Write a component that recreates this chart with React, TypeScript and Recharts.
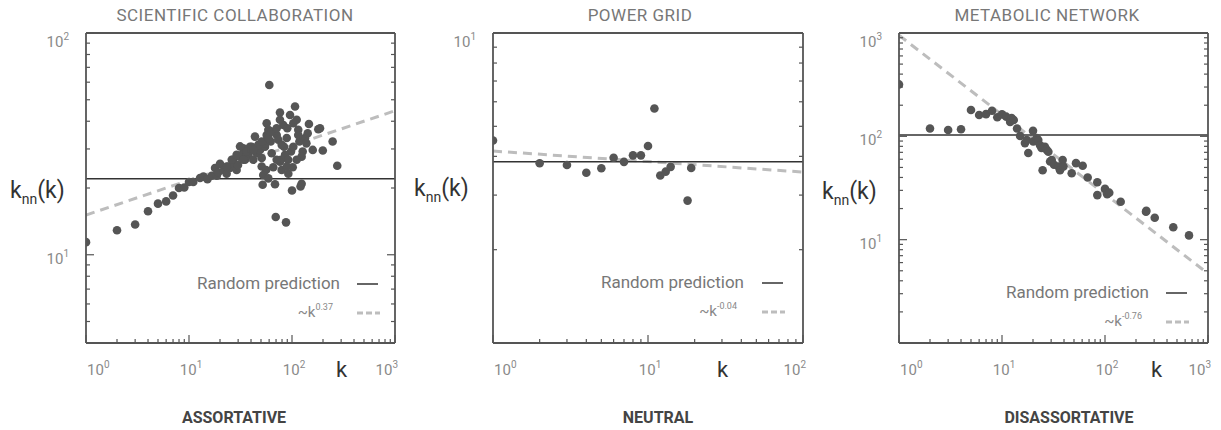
import React from 'react';
import { ScatterChart, Scatter, XAxis, YAxis, ReferenceLine } from 'recharts';

// ---------- Data ----------
const panelTitles = ['SCIENTIFIC COLLABORATION', 'POWER GRID', 'METABOLIC NETWORK'];
const panelTypes = ['ASSORTATIVE', 'NEUTRAL', 'DISASSORTATIVE'];
const fitExponents = ['0.37', '-0.04', '-0.76'];

// Scientific collaboration (k, knn)
const collabK = [1, 2, 3, 4, 5, 6, 7, 8, 9, 10, 11, 12.8, 13.8, 15.1, 16.6, 17.9, 18.6, 19.2, 20.0, 21.9, 23.2, 24.1, 25.0, 26.7, 26.9, 29.0, 29.9, 30.8, 32.5, 33.7, 35.0, 36.3, 37.7, 39.1, 40.6, 42.1, 43.7, 45.4, 47.1, 48.9, 50.8, 51.9, 52.6, 54.7, 54.7, 56.0, 56.8, 57.6, 58.9, 58.9, 60.2, 61, 62.1, 63.5, 65.8, 68.4, 69.5, 71.0, 73.6, 76.4, 76.4, 78.2, 79.4, 82.3, 83.6, 87.5, 88.9, 90.0, 92.1, 95.7, 97.8, 100, 101.6, 103, 107, 111, 115, 118, 121, 124, 127, 134, 142, 146, 159, 180, 187, 199, 248, 275,
  31.3, 36.3, 40.6, 47.1, 50.8, 58.9, 63.5, 71, 79.4, 85.6, 91.8, 103, 115, 124, 138, 76.4, 56.8, 23.2, 26, 29, 33.7, 42.1, 50.8, 71, 88.9, 111];
const collabKnn = [11.4, 12.9, 13.7, 15.7, 17.0, 17.4, 18.5, 20.0, 20.1, 21.3, 21.3, 22.2, 22.5, 21.9, 22.7, 24.6, 22.7, 23.5, 25.7, 24.1, 23.2, 25.0, 24.6, 26.8, 25.9, 24.1, 25.4, 27.7, 28.2, 30.2, 26.8, 28.7, 28.2, 30.7, 30.7, 26.8, 34.1, 28.7, 29.7, 29.7, 27.3, 20.7, 22.9, 30.7, 31.8, 24.1, 34.7, 34.1, 36.6, 22.1, 58.3, 35.9, 32.4, 28.7, 24.8, 20.8, 14.8, 34.7, 33.0, 43.8, 26.3, 26.8, 24.1, 38.5, 30.7, 14.0, 33.6, 37.2, 23.2, 42.7, 29.2, 19.5, 24.8, 39.2, 46.6, 40.6, 36.6, 32.4, 20.3, 20.9, 29.2, 33.6, 35.3, 38.9, 29.7, 36.8, 37.2, 29.5, 32.4, 25.2,
  30.8, 29.2, 29.7, 31.3, 32.4, 33.6, 35.9, 37.2, 31.3, 28.2, 26.8, 30.7, 34.7, 27.7, 31.8, 40.6, 39.2, 25.0, 26.8, 28.2, 26.8, 29.7, 25.0, 26.8, 25.0, 26.8];

// Power grid
const gridK = [1, 2, 3, 4, 5, 6, 7, 8, 9, 10, 11, 12, 13, 14, 18, 19];
const gridKnn = [4.5, 3.8, 3.75, 3.54, 3.66, 3.96, 3.84, 4.03, 4.03, 4.32, 5.71, 3.47, 3.57, 3.7, 2.88, 3.67];

// Metabolic network
const metaK = [1, 2, 3, 4, 5, 6, 7, 8, 9, 10, 11, 12, 12.4, 13, 14, 15, 16.7, 17.4, 18, 20, 20.1, 21.7, 22.5, 23.4, 24.2, 24.8, 26.1, 27.2, 28.2, 29.3, 30.4, 32, 35.3, 36.6, 38.8, 39.5, 47.5, 52.3, 60.7, 67.9, 84.2, 84.2, 100, 105, 110, 142, 250, 252, 304, 460, 654];
const metaKnn = [318, 119, 115, 117, 180, 161, 164, 177, 153, 163, 155, 138, 150, 144, 119, 101, 86, 92, 69, 113, 89, 96, 92, 82, 77, 47, 79, 74, 71, 57, 59, 53, 51, 47, 59, 51, 44, 55, 52, 40, 36, 27, 31, 27.5, 28.5, 23.3, 18.6, 19.0, 16.3, 13.2, 11.0];

// Random prediction levels
const randomLevels = [22, 3.84, 103];

// Fitted power laws (end points)
const fitK = [[1, 1000], [1, 100], [1, 1000]];
const fitKnn = [[15.1, 44.6], [4.16, 3.56], [950, 4.7]];

// Axes
const decadeTicks = (lo: number, hi: number) => {
  const out: number[] = [];
  for (let d = lo; d < hi; d++) {
    for (let m = 1; m < 10; m++) out.push(m * Math.pow(10, d));
  }
  out.push(Math.pow(10, hi));
  return out.map((v) => parseFloat(v.toPrecision(6)));
};
const xDomains = [[1, 1000], [1, 100], [1, 1000]];
const yDomains = [[4, 100], [1, 10], [1, 1000]];
const xTickLists = [decadeTicks(0, 3), decadeTicks(0, 2), decadeTicks(0, 3)];
const yTickLists = [decadeTicks(0, 2).filter((v) => v >= 4), decadeTicks(0, 1), decadeTicks(0, 3)];
const xLabelLists = [[1, 10, 100, 1000], [1, 10, 100], [1, 10, 100, 1000]];
const yLabelLists = [[10, 100], [10], [10, 100, 1000]];

// ---------- Styling helpers ----------
const AX = '#555';
const LABEL = '#8a8a8a';
const FONT = 'Roboto, "DejaVu Sans", sans-serif';

const isDecade = (v: number) => Math.abs(Math.log10(v) - Math.round(Math.log10(v))) < 1e-6;

const Pow10 = ({ x, y, v, anchor }: { x: number; y: number; v: number; anchor: string }) => (
  <text x={x} y={y} fill={LABEL} fontSize={15} fontFamily={FONT} textAnchor={anchor as any}>
    <tspan>10</tspan>
    <tspan dy={-7} fontSize={10}>{Math.round(Math.log10(v))}</tspan>
  </text>
);

const makeTick = (side: string, labels: number[], first: number, last: number, plotTop: number) => (props: any) => {
  const { x, y, payload } = props;
  const v = payload.value;
  const len = isDecade(v) ? 8 : 4;
  let line = null;
  if (side === 'bottom') line = <line x1={x} x2={x} y1={y} y2={y - len} stroke={AX} strokeWidth={1.2} />;
  if (side === 'top') line = <line x1={x} x2={x} y1={y} y2={y + len} stroke={AX} strokeWidth={1.2} />;
  if (side === 'left') line = <line x1={x} x2={x + len} y1={y} y2={y} stroke={AX} strokeWidth={1.2} />;
  if (side === 'right') line = <line x1={x} x2={x - len} y1={y} y2={y} stroke={AX} strokeWidth={1.2} />;
  let label = null;
  const hasLabel = labels.some((l) => Math.abs(l - v) < 1e-9);
  if (hasLabel && side === 'bottom') {
    let anchor = 'middle';
    let lx = x + 2;
    if (Math.abs(v - first) < 1e-9) {
      anchor = 'start';
      lx = x + 1;
    } else if (Math.abs(v - last) < 1e-9) {
      anchor = 'end';
      lx = x + 3;
    }
    label = <Pow10 x={lx} y={y + 32} v={v} anchor={anchor} />;
  }
  if (hasLabel && side === 'left') {
    const off = Math.abs(y - plotTop) < 1.5 ? 14 : 9;
    label = <Pow10 x={x - 17} y={y + off} v={v} anchor="end" />;
  }
  return (
    <g>
      {line}
      {label}
    </g>
  );
};

type PanelProps = { idx: number; left: number; width: number; box: { top: number; left: number; right: number; bottom: number } };

const Panel = ({ idx, left, width, box }: PanelProps) => {
  const ks = [collabK, gridK, metaK][idx];
  const vs = [collabKnn, gridKnn, metaKnn][idx];
  const data = ks.map((k, i) => ({ k, v: vs[i] }));
  const xd = xDomains[idx];
  const yd = yDomains[idx];
  const fk = fitK[idx];
  const fv = fitKnn[idx];
  // each axis takes 1px, so margins are reduced by 1
  const margin = { top: box.top - 1, left: box.left - 1, right: box.right - 1, bottom: box.bottom - 1 };
  const common = {
    type: 'number' as const,
    scale: 'log' as const,
    allowDataOverflow: true,
    interval: 0 as const,
    tickSize: 0,
    tickMargin: 0,
    tickLine: false,
    axisLine: { stroke: AX, strokeWidth: 1.8 },
  };
  return (
    <div style={{ position: 'absolute', left, top: 0 }}>
      <ScatterChart width={width} height={430} margin={margin}>
        <XAxis {...common} xAxisId={0} dataKey="k" domain={xd} ticks={xTickLists[idx]} height={1}
          tick={makeTick('bottom', xLabelLists[idx], xd[0], xd[1], box.top)} />
        <XAxis {...common} xAxisId="top" orientation="top" domain={xd} ticks={xTickLists[idx]} height={1}
          tick={makeTick('top', [], 0, 0, box.top)} />
        <YAxis {...common} yAxisId={0} dataKey="v" domain={yd} ticks={yTickLists[idx]} width={1}
          tick={makeTick('left', yLabelLists[idx], 0, 0, box.top)} />
        <YAxis {...common} yAxisId="right" orientation="right" domain={yd} ticks={yTickLists[idx]} width={1}
          tick={makeTick('right', [], 0, 0, box.top)} />
        <ReferenceLine
          xAxisId={0}
          yAxisId={0}
          segment={[
            { x: fk[0], y: fv[0] },
            { x: fk[1], y: fv[1] },
          ]}
          stroke="#bdbdbd"
          strokeWidth={3}
          strokeDasharray="9 6"
        />
        <ReferenceLine xAxisId={0} yAxisId={0} y={randomLevels[idx]} stroke="#333" strokeWidth={1.5} />
        <Scatter
          xAxisId={0}
          yAxisId={0}
          data={data}
          isAnimationActive={false}
          shape={(p: any) => <circle cx={p.cx} cy={p.cy} r={4.3} fill="#555" />}
        />
      </ScatterChart>
    </div>
  );
};

// ---------- Overlays ----------
const Title = ({ cx, text }: { cx: number; text: string }) => (
  <div style={{ position: 'absolute', left: cx - 200, width: 400, top: 4, textAlign: 'center', fontSize: 17, letterSpacing: 0.5, color: '#777', fontFamily: FONT, lineHeight: '22px' }}>
    {text}
  </div>
);

const Bottom = ({ cx, text }: { cx: number; text: string }) => (
  <div style={{ position: 'absolute', left: cx - 150, width: 300, top: 407, textAlign: 'center', fontSize: 16, fontWeight: 700, color: '#444', fontFamily: FONT, lineHeight: '22px' }}>
    {text}
  </div>
);

const YLabel = ({ x, y }: { x: number; y: number }) => (
  <div style={{ position: 'absolute', left: x, top: y - 14, fontSize: 23, color: '#333', fontFamily: FONT, lineHeight: '28px', whiteSpace: 'nowrap' }}>
    k<span style={{ fontSize: 14, position: 'relative', top: 6 }}>nn</span>(k)
  </div>
);

const KLabel = ({ x, y }: { x: number; y: number }) => (
  <div style={{ position: 'absolute', left: x, top: y - 14, fontSize: 22, color: '#333', fontFamily: FONT, lineHeight: '26px' }}>k</div>
);

const LegendBlock = ({ right, y, exp, sampleX }: { right: number; y: number; exp: string; sampleX: number }) => (
  <>
    <div style={{ position: 'absolute', left: right - 300, width: 300, top: y - 12, textAlign: 'right', fontSize: 17, color: '#777', fontFamily: FONT, lineHeight: '22px', whiteSpace: 'nowrap' }}>
      Random prediction
    </div>
    <svg style={{ position: 'absolute', left: sampleX, top: y - 5 }} width={26} height={10}>
      <line x1={0} x2={21} y1={5} y2={5} stroke="#333" strokeWidth={1.5} />
    </svg>
    <div style={{ position: 'absolute', left: right - 307, width: 300, top: y + 17, textAlign: 'right', fontSize: 15, color: '#888', fontFamily: FONT, lineHeight: '22px', whiteSpace: 'nowrap' }}>
      ~k<span style={{ fontSize: 9, position: 'relative', top: -7 }}>{exp}</span>
    </div>
    <svg style={{ position: 'absolute', left: sampleX, top: y + 24 }} width={26} height={10}>
      <line x1={0} x2={23} y1={5} y2={5} stroke="#bdbdbd" strokeWidth={3} strokeDasharray="6 3" />
    </svg>
  </>
);

export default function App() {
  return (
    <div style={{ position: 'absolute', left: 0, top: 0, width: 1221, height: 430, background: '#fff', overflow: 'hidden' }}>
      <Panel idx={0} left={0} width={410} box={{ top: 33, left: 86, right: 15, bottom: 87 }} />
      <Panel idx={1} left={410} width={410} box={{ top: 33, left: 83, right: 17, bottom: 87 }} />
      <Panel idx={2} left={810} width={411} box={{ top: 33, left: 89, right: 13, bottom: 87 }} />

      <Title cx={235} text={panelTitles[0]} />
      <Title cx={640} text={panelTitles[1]} />
      <Title cx={1047} text={panelTitles[2]} />

      <Bottom cx={234} text={panelTypes[0]} />
      <Bottom cx={658} text={panelTypes[1]} />
      <Bottom cx={1069} text={panelTypes[2]} />

      <YLabel x={10} y={191} />
      <YLabel x={414} y={189} />
      <YLabel x={822} y={192} />

      <KLabel x={336} y={371} />
      <KLabel x={717} y={371} />
      <KLabel x={1151} y={371} />

      <LegendBlock right={340} y={284} exp={fitExponents[0]} sampleX={357} />
      <LegendBlock right={744} y={283} exp={fitExponents[1]} sampleX={762} />
      <LegendBlock right={1149} y={293} exp={fitExponents[2]} sampleX={1166} />
    </div>
  );
}
